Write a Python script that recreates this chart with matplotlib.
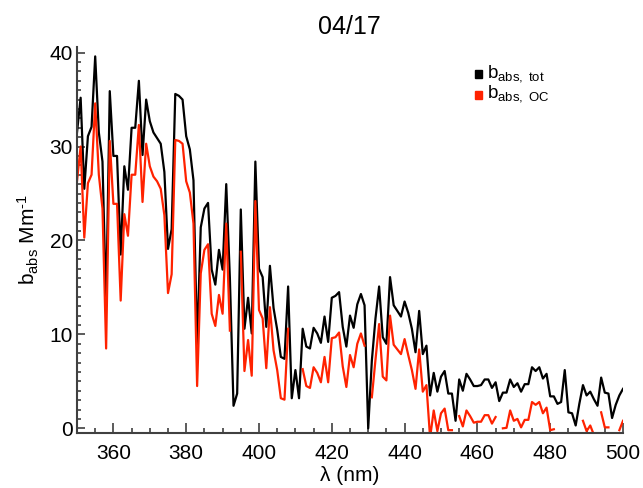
import numpy as np
import matplotlib
matplotlib.use("Agg")
import matplotlib.pyplot as plt
from matplotlib.ticker import MultipleLocator
from matplotlib.patches import Rectangle

plt.rcParams['font.family'] = ['Liberation Sans', 'DejaVu Sans']
plt.rcParams['mathtext.fontset'] = 'custom'
plt.rcParams['mathtext.rm'] = 'Liberation Sans'
plt.rcParams['mathtext.it'] = 'Liberation Sans'

nan = np.nan

# wavelength (nm), one point per nm
wavelength = np.arange(350, 501)

b_tot = [
    31.5, 35.2, 25.5, 31.1, 32.1, 39.6, 31.5, 28.4, 13.0, 35.9,   # 350-359
    29.0, 29.0, 18.5, 27.9, 25.4, 32.0, 32.0, 37.0, 29.1, 35.0,   # 360-369
    32.7, 31.5, 30.9, 30.3, 27.3, 19.1, 21.2, 35.6, 35.4, 35.0,   # 370-379
    31.1, 29.7, 26.4, 8.8, 21.4, 23.4, 24.0, 16.9, 15.3, 19.0,    # 380-389
    16.9, 26.0, 16.0, 2.4, 3.7, 23.3, 10.6, 13.9, 10.1, 28.4,     # 390-399
    17.0, 16.1, 10.8, 17.3, 12.8, 10.5, 7.6, 7.4, 15.1, 3.2,      # 400-409
    6.2, 3.2, 10.6, 8.7, 8.5, 10.7, 10.1, 9.1, 11.9, 9.2,         # 410-419
    13.9, 14.1, 14.5, 10.8, 8.7, 12.0, 10.7, 13.2, 14.3, 13.1,    # 420-429
    0.0, 7.2, 11.7, 15.1, 9.7, 9.0, 16.1, 13.1, 12.5, 11.9,       # 430-439
    13.5, 12.3, 10.6, 8.1, 12.5, 7.9, 8.8, 3.5, 5.9, 3.9,         # 440-449
    5.5, 6.1, 3.7, 3.7, 0.8, 5.2, 4.0, 5.8, 5.2, 4.5,             # 450-459
    4.5, 4.6, 5.2, 5.2, 4.3, 4.9, 2.9, 3.8, 3.8, 5.2,             # 460-469
    4.4, 4.8, 3.9, 4.7, 4.7, 6.5, 6.1, 6.5, 5.3, 5.8,             # 470-479
    3.4, 3.4, 2.6, 2.8, 6.2, 1.7, 1.6, 0.3, 2.6, 4.6,             # 480-489
    3.5, 3.9, 3.1, 2.4, 5.4, 3.8, 3.7, 1.1, 2.5, 3.5,             # 490-499
    4.2,                                                          # 500
]

b_oc = [
    26.3, 30.0, 20.3, 26.1, 27.0, 34.6, 27.0, 23.4, 8.5, 30.6,    # 350-359
    23.9, 23.9, 13.6, 22.8, 20.5, 27.0, 27.0, 32.3, 24.1, 30.3,   # 360-369
    27.9, 26.8, 26.3, 25.5, 22.7, 14.4, 16.4, 30.7, 30.6, 30.3,   # 370-379
    26.3, 25.1, 21.8, 4.5, 16.5, 19.0, 19.6, 12.2, 10.9, 14.2,    # 380-389
    12.2, 21.8, 10.4, nan, nan, 18.8, 6.1, 9.4, 5.6, 24.2,        # 390-399
    12.6, 11.7, 6.4, 12.9, 8.3, 6.2, 3.2, 3.05, 10.6, nan,        # 400-409
    nan, nan, 6.3, 4.5, 4.3, 6.5, 5.9, 4.9, 7.6, 4.9,             # 410-419
    9.6, 9.7, 10.2, 6.6, 4.4, 7.8, 6.5, 9.0, 10.1, 8.8,           # 420-429
    nan, 3.3, 7.3, 11.1, 5.5, 5.1, 12.0, 8.9, 8.4, 7.9,           # 430-439
    9.5, 7.8, 6.2, 4.2, 8.4, 3.9, 4.6, -1.0, 1.9, -0.3,           # 440-449
    1.6, 2.1, -0.2, -0.2, nan, 1.3, 0.2, 1.9, 1.3, 0.6,           # 450-459
    0.7, 0.7, 1.4, 1.4, 0.5, 1.2, nan, 0.0, 0.05, 1.9,            # 460-469
    0.8, 1.0, 0.1, 0.9, 0.9, 2.8, 2.5, 2.8, 1.6, 2.2,             # 470-479
    -0.2, -0.1, nan, nan, nan, nan, nan, nan, nan, 0.8,           # 480-489
    -0.3, 0.3, -0.7, nan, 1.7, 0.1, 0.1, nan, nan, -0.2,          # 490-499
    0.8,                                                          # 500
]

W, H = 643, 488
fig = plt.figure(figsize=(W / 100, H / 100), dpi=100)
ax = fig.add_axes([77 / W, 1 - 433 / H, (623 - 77) / W, (433 - 47) / H])

ax.plot(wavelength, b_tot, color='black', lw=1.6)
ax.plot(wavelength, b_oc, color='#ff2200', lw=1.6)

ax.set_xlim(350, 500)
ax.set_ylim(-0.5, 40.6)
ax.set_xticks([360, 380, 400, 420, 440, 460, 480, 500])
ax.xaxis.set_minor_locator(MultipleLocator(5))
ax.set_yticks([0, 10, 20, 30, 40])
ax.yaxis.set_minor_locator(MultipleLocator(1))

for s in ['top', 'right']:
    ax.spines[s].set_visible(False)
for s in ['left', 'bottom']:
    ax.spines[s].set_color('#404040')
    ax.spines[s].set_linewidth(1.5)

ax.tick_params(axis='both', which='both', direction='in', color='#404040',
               labelsize=15, width=1.2)
ax.tick_params(axis='x', which='major', length=7, pad=8)
ax.tick_params(axis='x', which='minor', length=3.5)
ax.tick_params(axis='y', which='major', length=6, pad=3)
ax.tick_params(axis='y', which='minor', length=3)

ax.set_xlabel('λ (nm)', fontsize=15, labelpad=2)
ax.set_ylabel('b$_{\\mathrm{abs}}$ Mm$^{\\mathrm{\u2010}1}$', fontsize=15, labelpad=6)
fig.text(349 / W, 1 - 27 / H, '04/17', fontsize=18, ha='center', va='center')

# legend
for yc, col in [(74, 'black'), (95, '#ff2200')]:
    fig.add_artist(Rectangle(((478 - 3.5) / W, 1 - (yc + 3.5) / H), 7 / W, 7 / H,
                             transform=fig.transFigure, color=col))
fig.text(487 / W, 1 - 78 / H, r'b$_{\mathrm{abs,\ tot}}$', fontsize=13.5, va='baseline')
fig.text(487 / W, 1 - 97 / H, r'b$_{\mathrm{abs,\ OC}}$', fontsize=13.5, va='baseline')

fig.savefig('out.png', dpi=100)
